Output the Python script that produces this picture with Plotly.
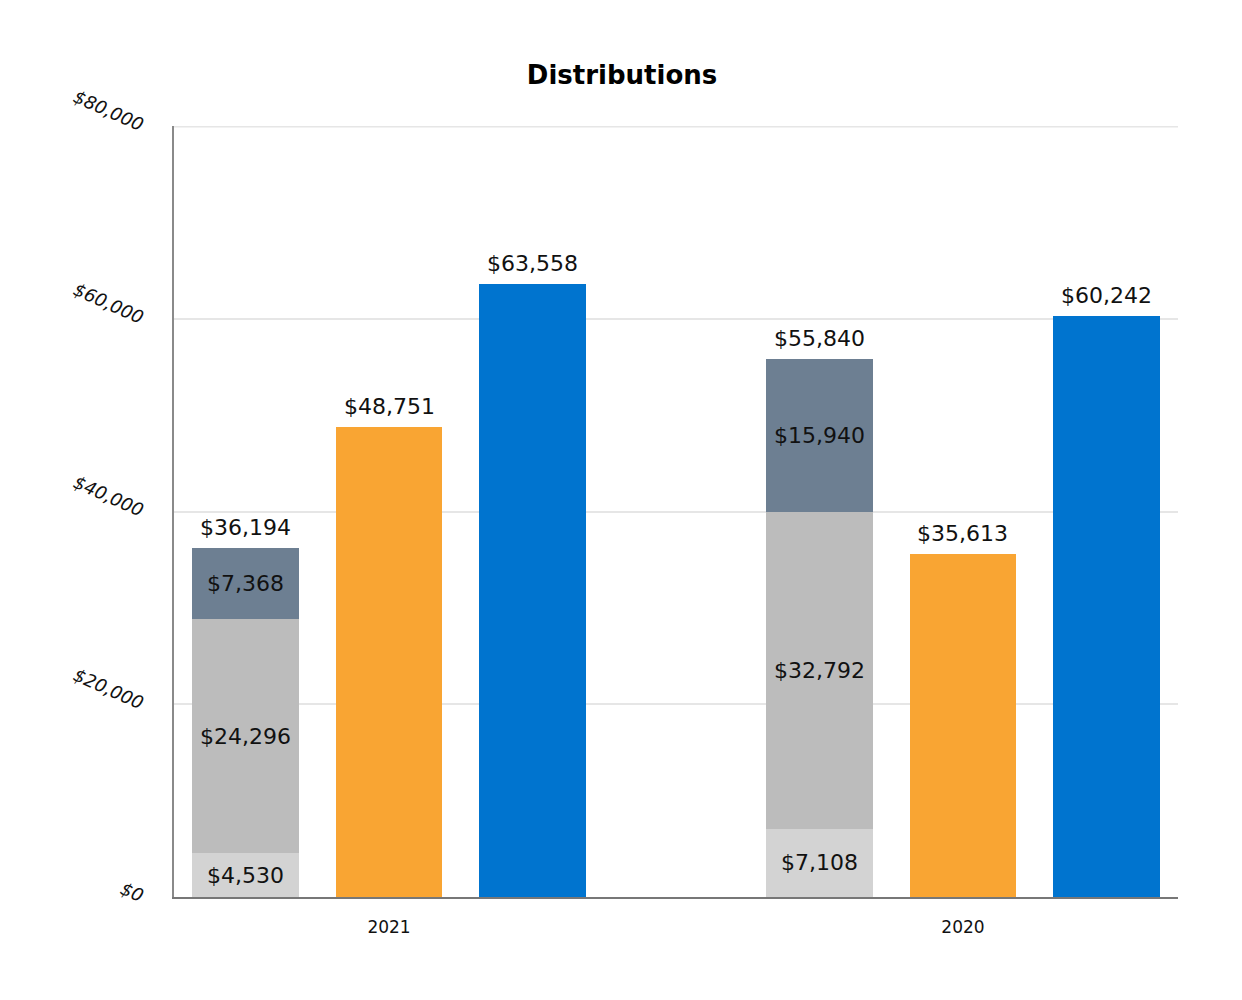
import plotly.graph_objects as go

years = ["2021", "2020"]
seg_light = [4530, 7108]
seg_mid = [24296, 32792]
seg_dark = [7368, 15940]
orange_vals = [48751, 35613]
blue_vals = [63558, 60242]

y_ticks = [0, 20000, 40000, 60000, 80000]

FONT = "DejaVu Sans, Verdana, sans-serif"
idx = list(range(len(years)))
OFF = 0.25
W = 0.185

def money(v):
    return "${:,}".format(v)

fig = go.Figure()
stack_x = [i - OFF for i in idx]
for vals, col in [(seg_light, "#d3d3d3"), (seg_mid, "#bcbcbc"), (seg_dark, "#6d7f92")]:
    fig.add_trace(go.Bar(
        x=stack_x, y=vals, width=W, marker=dict(color=col, line=dict(width=0)),
        text=[money(v) for v in vals], textposition="inside", insidetextanchor="middle",
        textfont=dict(family=FONT, size=22, color="#111111"), constraintext="none",
        showlegend=False, hoverinfo="skip"))
fig.add_trace(go.Bar(x=idx, y=orange_vals, width=W, marker=dict(color="#f9a533", line=dict(width=0)),
                     showlegend=False, hoverinfo="skip"))
fig.add_trace(go.Bar(x=[i + OFF for i in idx], y=blue_vals, width=W,
                     marker=dict(color="#0074cf", line=dict(width=0)),
                     showlegend=False, hoverinfo="skip"))

totals = [a + b + c for a, b, c in zip(seg_light, seg_mid, seg_dark)]
for xs, vals in [(stack_x, totals), (idx, orange_vals), ([i + OFF for i in idx], blue_vals)]:
    for x, v in zip(xs, vals):
        fig.add_annotation(x=x, y=v, text=money(v), showarrow=False, yanchor="bottom",
                           yshift=6, font=dict(family=FONT, size=22, color="#111111"))

# top gridline (at the upper end of the range)
fig.add_hline(y=max(y_ticks), line=dict(color="#e6e6e6", width=3), layer="below")

fig.update_layout(
    barmode="stack",
    width=1242, height=1000,
    margin=dict(l=166, r=72, t=118, b=111),
    paper_bgcolor="white", plot_bgcolor="white",
    title=dict(text="<b>Distributions</b>", x=0.4944, xanchor="center", y=0.933, yanchor="middle",
               font=dict(family=FONT, size=26, color="#000000")),
    xaxis=dict(range=[-0.3746, 1.3746], tickvals=idx, ticktext=years, showgrid=False,
               zeroline=False, showline=True, linecolor="#777777", linewidth=2,
               ticks="", ticklabelstandoff=14,
               tickfont=dict(family=FONT, size=17, color="#111111")),
    yaxis=dict(range=[0, 80000], tickvals=y_ticks, ticktext=[money(v) for v in y_ticks],
               showgrid=True, gridcolor="#e6e6e6", gridwidth=1.5, zeroline=False,
               showline=True, linecolor="#8a8a8a", linewidth=1.5, tickangle=24,
               ticklabelstandoff=25,
               tickfont=dict(family=FONT, size=18, color="#111111", style="italic")),
)

fig.write_html("out.html")
